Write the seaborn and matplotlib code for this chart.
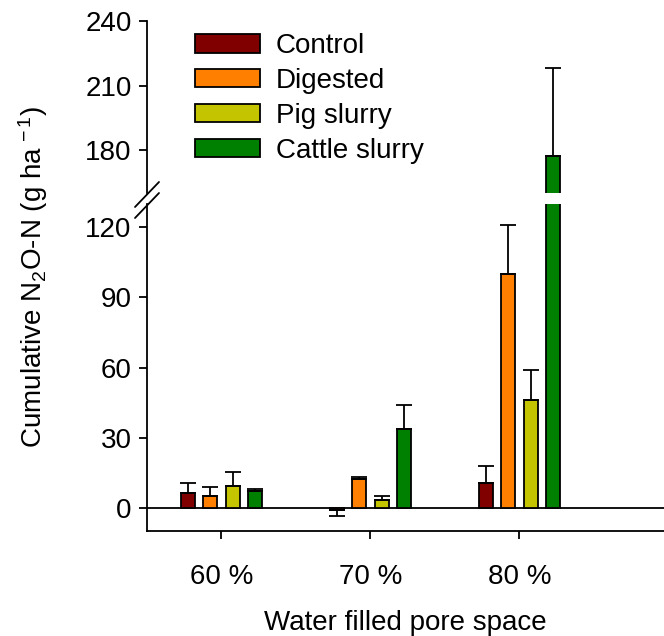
import matplotlib
matplotlib.use("Agg")
import matplotlib.pyplot as plt
from matplotlib.patches import Patch
from matplotlib.lines import Line2D
import numpy as np
import pandas as pd
import seaborn as sns

# Cumulative N2O-N emissions (g ha-1) by water filled pore space and treatment
wfps = ["60 %", "70 %", "80 %"]
treatments = ["Control", "Digested", "Pig slurry", "Cattle slurry"]
control = [6.3, -1.0, 10.6]
digested = [5.1, 12.4, 99.9]
pig_slurry = [9.1, 3.3, 46.2]
cattle_slurry = [7.3, 33.7, 177.0]
control_se = [4.1, 2.6, 7.3]
digested_se = [3.9, 0.7, 20.9]
pig_slurry_se = [6.3, 1.8, 12.8]
cattle_slurry_se = [0.5, 10.4, 41.0]
colors = ["#800000", "#FF8000", "#C4C400", "#008000"]

means = [control, digested, pig_slurry, cattle_slurry]
errors = [control_se, digested_se, pig_slurry_se, cattle_slurry_se]

df = pd.DataFrame({
    "wfps": np.tile(wfps, len(treatments)),
    "treatment": np.repeat(treatments, len(wfps)),
    "value": np.concatenate(means),
})

sns.set_style("ticks")
plt.rcParams["font.family"] = ["Liberation Sans", "DejaVu Sans"]
plt.rcParams["mathtext.fontset"] = "custom"
plt.rcParams["mathtext.rm"] = "Liberation Sans"
plt.rcParams["mathtext.it"] = "Liberation Sans:italic"
plt.rcParams["font.size"] = 20
for key in ("text.color", "axes.labelcolor", "xtick.color", "ytick.color",
            "axes.edgecolor"):
    plt.rcParams[key] = "black"

W, H = 664, 636
fig = plt.figure(figsize=(W / 100, H / 100), dpi=100)
ax_low = fig.add_axes([147 / W, 1 - 531 / H, 517 / W, 327 / H])
ax_top = fig.add_axes([147 / W, 1 - 193 / H, 517 / W, 172 / H])

lw = 1.3
for ax in (ax_low, ax_top):
    sns.barplot(data=df, x="wfps", y="value", hue="treatment",
                order=wfps, hue_order=treatments, palette=colors,
                width=0.6, gap=0.375, saturation=1, errorbar=None,
                edgecolor="black", linewidth=lw, legend=False, ax=ax)
    # one-sided error bars pointing away from zero
    for cont, m_vals, e_vals in zip(ax.containers, means, errors):
        for bar, m, e in zip(cont.patches, m_vals, e_vals):
            xc = bar.get_x() + bar.get_width() / 2
            yerr = [[0], [e]] if m >= 0 else [[e], [0]]
            ax.errorbar(xc, m, yerr=yerr, fmt="none", ecolor="black",
                        elinewidth=lw, capsize=6, capthick=lw, zorder=1)
    ax.set_xlim(-0.5, 2.97)
    ax.set_xlabel("")
    ax.set_ylabel("")
    for s in ax.spines.values():
        s.set_linewidth(lw)
        s.set_color("black")
    ax.tick_params(axis="both", width=lw, length=6, labelsize=20, pad=5,
                   color="black", labelcolor="black")

ax_low.set_ylim(-10, 130)
ax_low.set_yticks([0, 30, 60, 90, 120])
ax_low.axhline(0, color="black", lw=lw, zorder=0.5)
ax_low.spines["top"].set_visible(False)
ax_low.spines["right"].set_visible(False)
ax_low.tick_params(axis="x", pad=18)
ax_low.set_xlabel("Water filled pore space", fontsize=20, labelpad=14,
                  color="black")

ax_top.set_ylim(160, 240)
ax_top.set_yticks([180, 210, 240])
ax_top.set_xticks([])
for side in ("top", "right", "bottom"):
    ax_top.spines[side].set_visible(False)

# axis break marks
for y0 in (207, 218):
    fig.add_artist(Line2D([135 / W, 159 / W], [1 - y0 / H, 1 - (y0 - 25) / H],
                          transform=fig.transFigure, color="black", lw=lw))

fig.text(33 / W, 1 - 277 / H, r"Cumulative N$_2$O-N (g ha$^{\,-1}$)",
         rotation=90, ha="center", va="center", fontsize=20, color="black")

handles = [Patch(facecolor=c, edgecolor="black", linewidth=lw) for c in colors]
ax_top.legend(handles, treatments, loc="upper left",
              bbox_to_anchor=(195 / W, 1 - 33 / H), bbox_transform=fig.transFigure,
              frameon=False, fontsize=20, handlelength=2.35, handleheight=0.65,
              handletextpad=0.55, labelspacing=0.32, borderpad=0, borderaxespad=0,
              labelcolor="black")

fig.savefig("out.png", dpi=100)
